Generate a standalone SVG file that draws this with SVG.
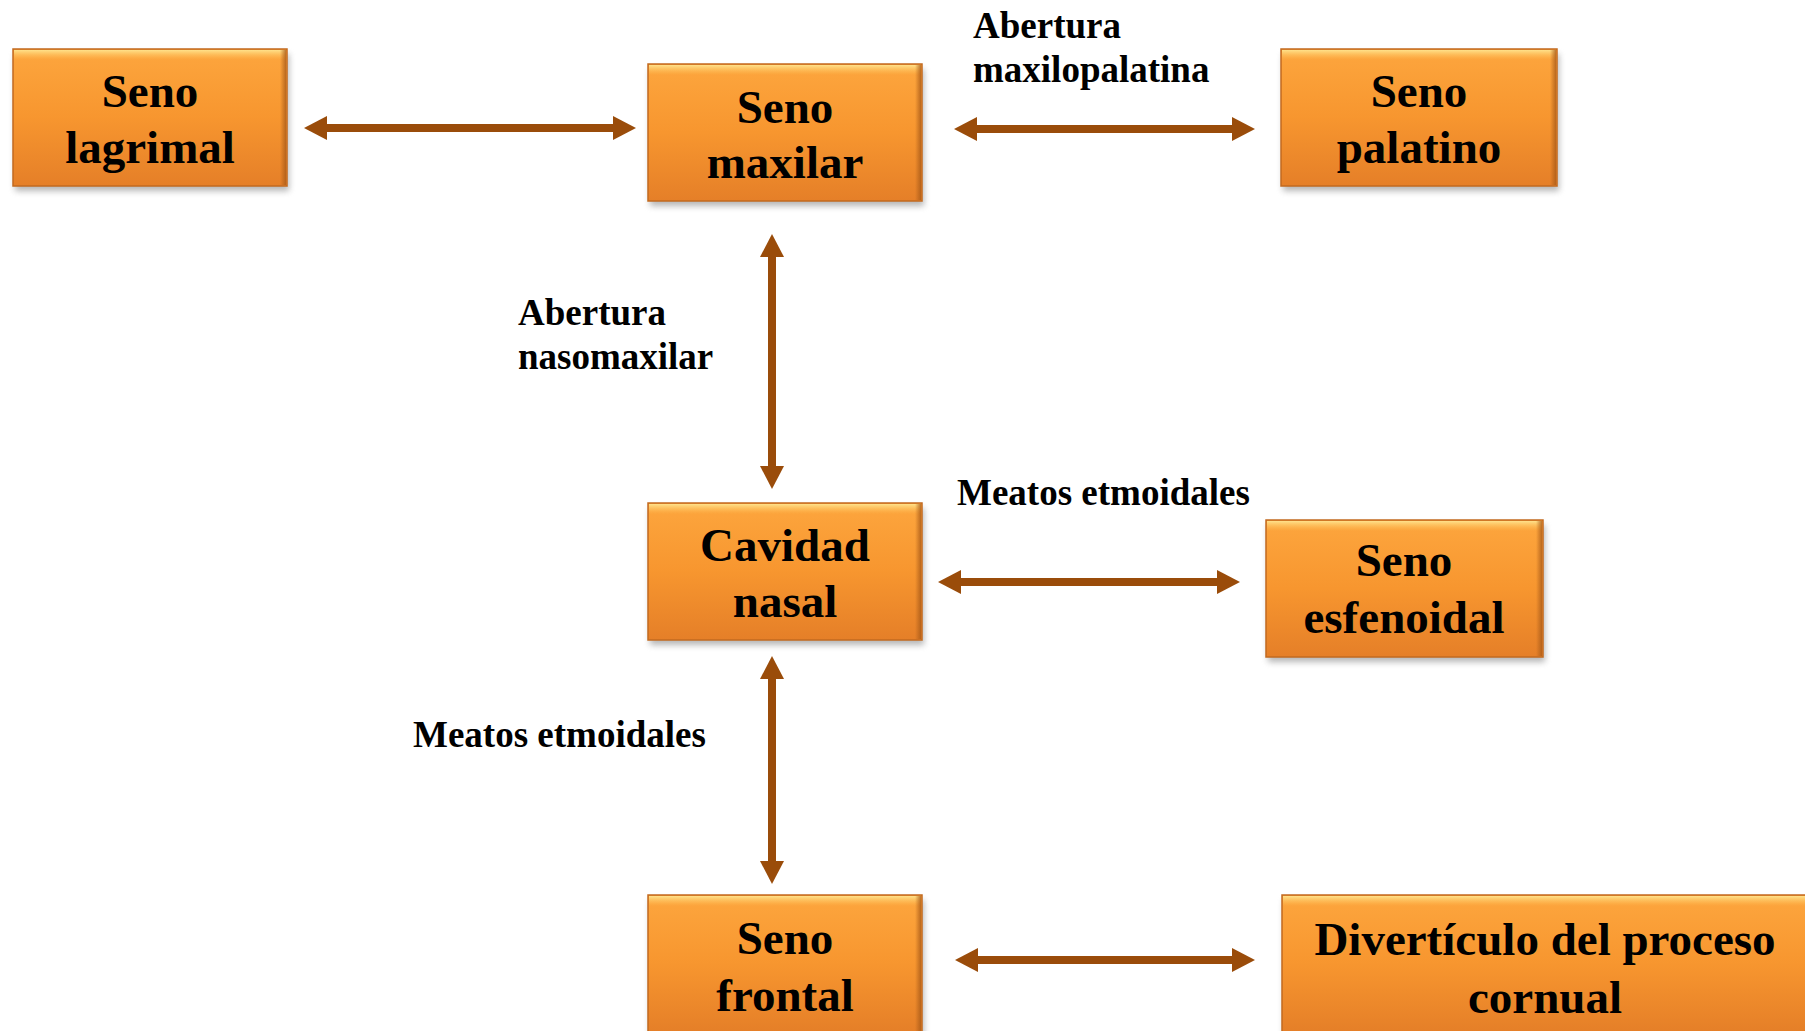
<svg xmlns="http://www.w3.org/2000/svg" width="1805" height="1031" viewBox="0 0 1805 1031">
<defs>
<linearGradient id="gBox" x1="0" y1="0" x2="0" y2="1">
<stop offset="0" stop-color="#FDA63E"/>
<stop offset="0.5" stop-color="#F7962F"/>
<stop offset="1" stop-color="#E57F28"/>
</linearGradient>
<linearGradient id="gTop" x1="0" y1="0" x2="0" y2="1">
<stop offset="0" stop-color="#FFE48E" stop-opacity="0.95"/>
<stop offset="1" stop-color="#FFC35A" stop-opacity="0"/>
</linearGradient>
<linearGradient id="gSide" x1="0" y1="0" x2="1" y2="0">
<stop offset="0" stop-color="#A85A18" stop-opacity="0"/>
<stop offset="1" stop-color="#A85A18" stop-opacity="0.8"/>
</linearGradient>
<filter id="sh" x="-10%" y="-10%" width="120%" height="130%">
<feGaussianBlur stdDeviation="3"/>
</filter>
<marker id="ah" markerUnits="userSpaceOnUse" markerWidth="24" markerHeight="24" refX="0" refY="12" orient="auto-start-reverse" viewBox="0 0 24 24">
<path d="M0,0 L23,12 L0,24 Z" fill="#9A4C0A"/>
</marker>
</defs>
<style>
.shadow{fill:#7a7a7a;opacity:0.55;filter:url(#sh)}
.box{fill:url(#gBox);stroke:#C26A1F;stroke-width:1.5}
.top{fill:url(#gTop)}
.side{fill:url(#gSide)}
.bt{font-family:"Liberation Serif","Times New Roman",serif;font-weight:bold;font-size:47px;fill:#000;text-anchor:middle}
.lbl{font-family:"Liberation Serif","Times New Roman",serif;font-weight:bold;font-size:37px;fill:#000}
.conn{stroke:#9A4C0A;stroke-width:8;fill:none;marker-start:url(#ah);marker-end:url(#ah)}
</style>
<rect width="1805" height="1031" fill="#fff"/>

<g id="connectors">
<line class="conn" x1="327" y1="128" x2="613" y2="128"/>
<line class="conn" x1="977" y1="129" x2="1232" y2="129"/>
<line class="conn" x1="772" y1="257" x2="772" y2="466"/>
<line class="conn" x1="961" y1="582" x2="1217" y2="582"/>
<line class="conn" x1="772" y1="679" x2="772" y2="861"/>
<line class="conn" x1="978" y1="960" x2="1232" y2="960"/>
</g>

<g id="labels">
<text class="lbl" x="973" y="38">Abertura</text>
<text class="lbl" x="973" y="82">maxilopalatina</text>
<text class="lbl" x="518" y="325">Abertura</text>
<text class="lbl" x="518" y="369">nasomaxilar</text>
<text class="lbl" x="957" y="505">Meatos etmoidales</text>
<text class="lbl" x="413" y="747">Meatos etmoidales</text>
</g>

<g id="seno-lagrimal">
<rect class="shadow" x="15" y="54" width="274" height="137"/>
<rect class="box" x="13" y="49" width="274" height="137"/>
<rect class="top" x="14" y="50" width="272" height="10"/>
<rect class="side" x="280" y="50" width="6" height="135"/>
<text class="bt" x="150" y="107">Seno</text>
<text class="bt" x="150" y="163">lagrimal</text>
</g>

<g id="seno-maxilar">
<rect class="shadow" x="650" y="69" width="274" height="137"/>
<rect class="box" x="648" y="64" width="274" height="137"/>
<rect class="top" x="649" y="65" width="272" height="10"/>
<rect class="side" x="915" y="65" width="6" height="135"/>
<text class="bt" x="785" y="123">Seno</text>
<text class="bt" x="785" y="178">maxilar</text>
</g>

<g id="seno-palatino">
<rect class="shadow" x="1283" y="54" width="276" height="137"/>
<rect class="box" x="1281" y="49" width="276" height="137"/>
<rect class="top" x="1282" y="50" width="274" height="10"/>
<rect class="side" x="1550" y="50" width="6" height="135"/>
<text class="bt" x="1419" y="107">Seno</text>
<text class="bt" x="1419" y="163">palatino</text>
</g>

<g id="cavidad-nasal">
<rect class="shadow" x="650" y="508" width="274" height="137"/>
<rect class="box" x="648" y="503" width="274" height="137"/>
<rect class="top" x="649" y="504" width="272" height="10"/>
<rect class="side" x="915" y="504" width="6" height="135"/>
<text class="bt" x="785" y="561">Cavidad</text>
<text class="bt" x="785" y="617">nasal</text>
</g>

<g id="seno-esfenoidal">
<rect class="shadow" x="1268" y="525" width="277" height="137"/>
<rect class="box" x="1266" y="520" width="277" height="137"/>
<rect class="top" x="1267" y="521" width="275" height="10"/>
<rect class="side" x="1536" y="521" width="6" height="135"/>
<text class="bt" x="1404" y="576">Seno</text>
<text class="bt" x="1404" y="633">esfenoidal</text>
</g>

<g id="seno-frontal">
<rect class="shadow" x="650" y="900" width="274" height="137"/>
<rect class="box" x="648" y="895" width="274" height="137"/>
<rect class="top" x="649" y="896" width="272" height="10"/>
<rect class="side" x="915" y="896" width="6" height="135"/>
<text class="bt" x="785" y="954">Seno</text>
<text class="bt" x="785" y="1011">frontal</text>
</g>

<g id="diverticulo-proceso-cornual">
<rect class="shadow" x="1284" y="900" width="530" height="137"/>
<rect class="box" x="1282" y="895" width="530" height="137"/>
<rect class="top" x="1283" y="896" width="528" height="10"/>
<text class="bt" x="1545" y="955">Divertículo del proceso</text>
<text class="bt" x="1545" y="1013">cornual</text>
</g>
</svg>
